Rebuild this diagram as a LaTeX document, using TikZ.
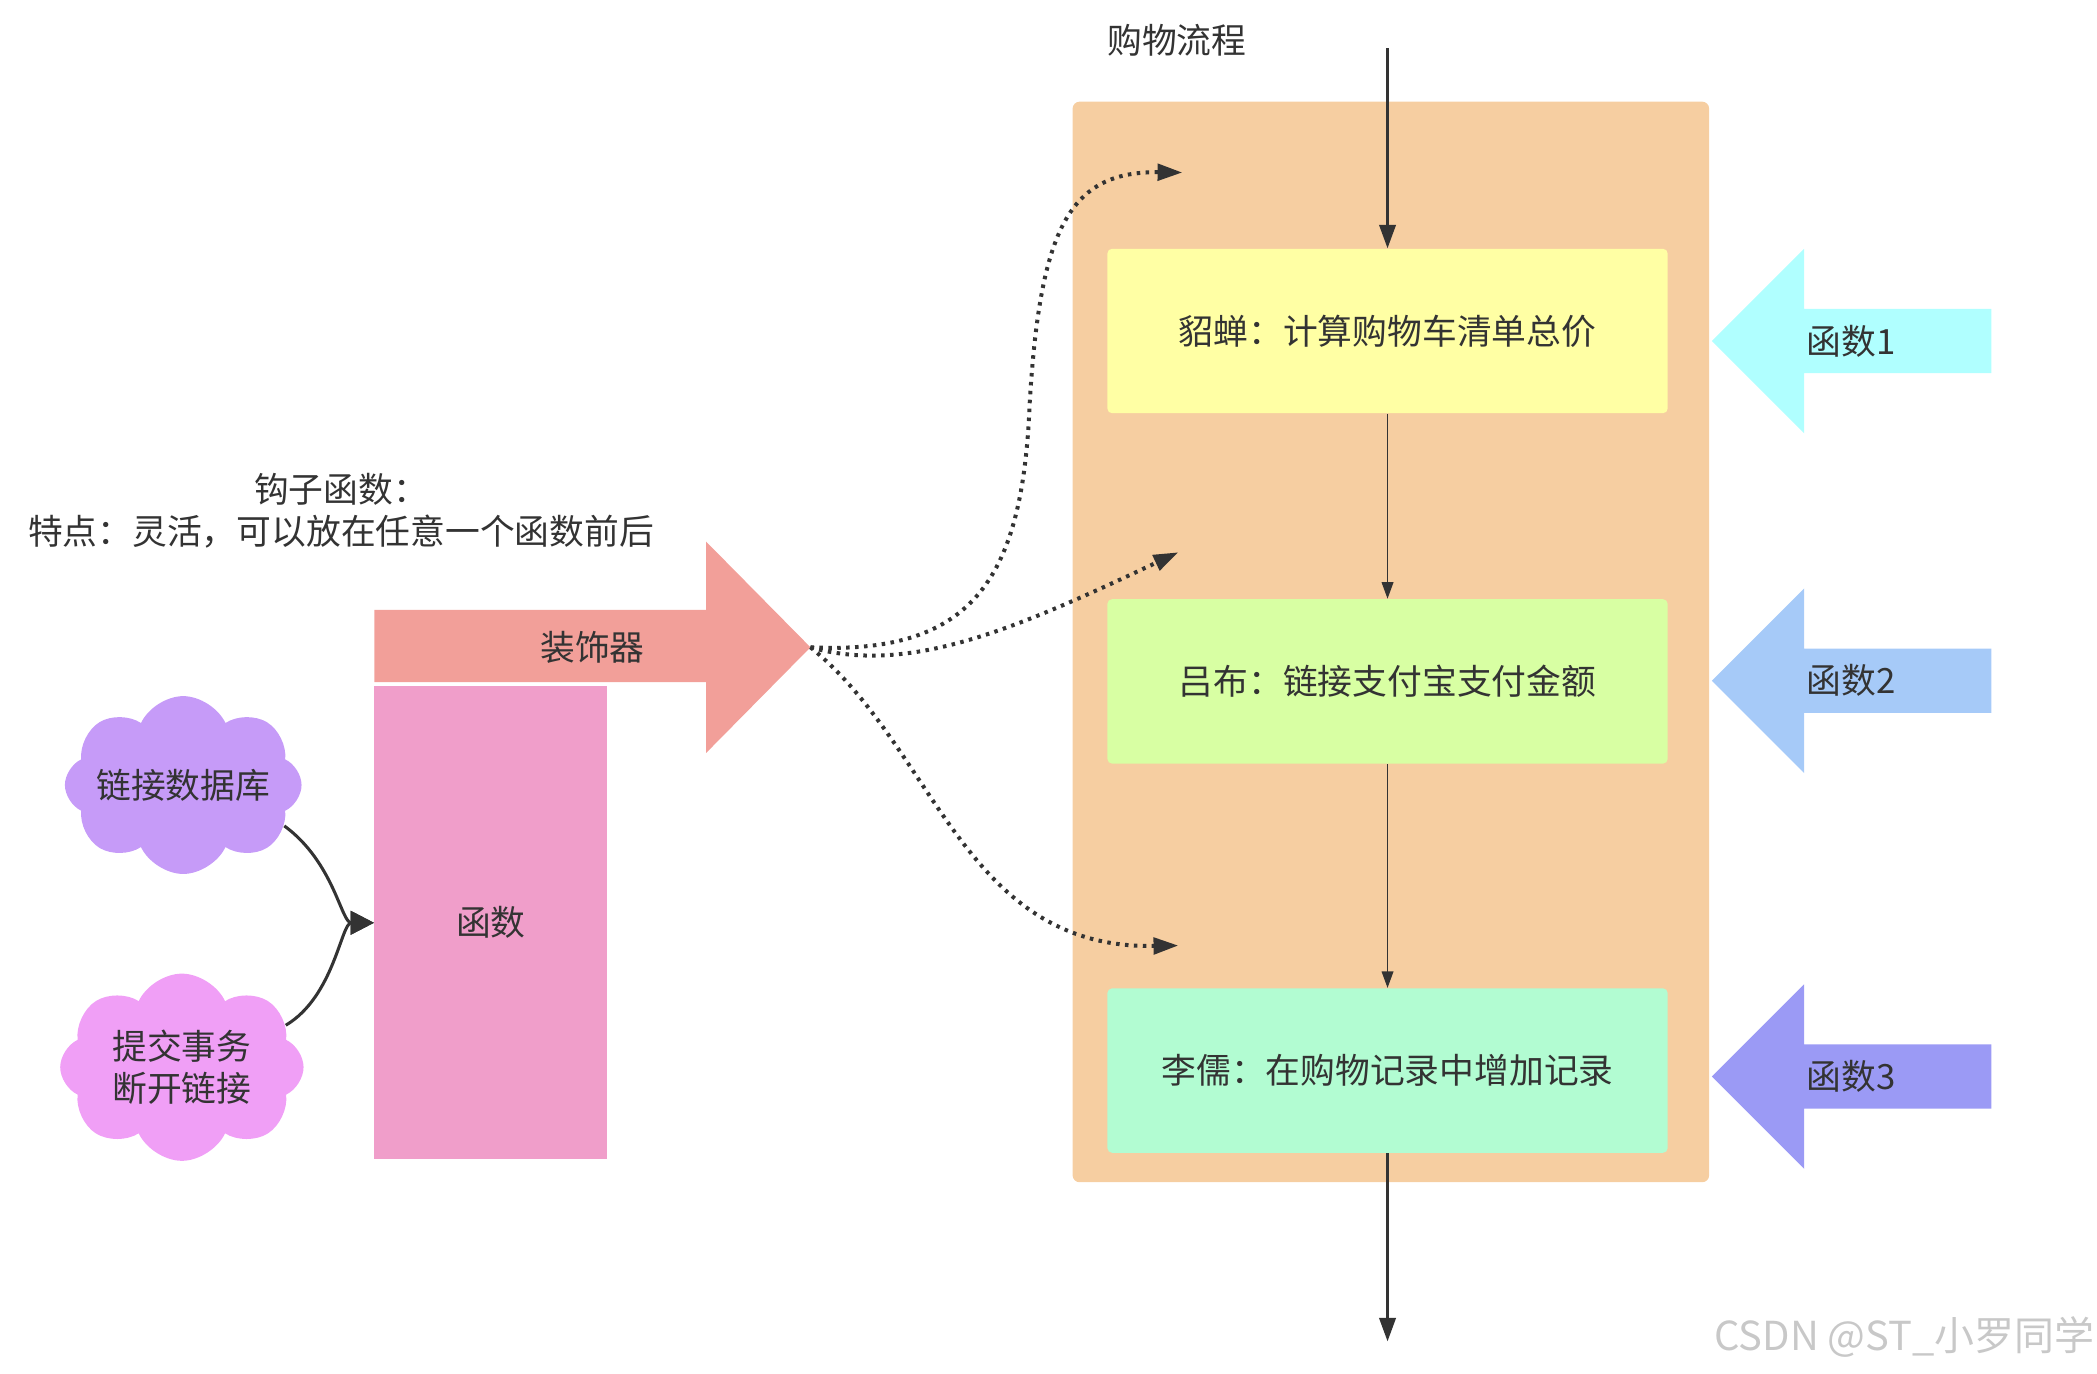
\documentclass[tikz,border=0pt]{standalone}
\usepackage{fontspec}
\setmainfont{Noto Sans CJK SC}
\usetikzlibrary{arrows.meta,shapes.symbols}

\definecolor{txt}{HTML}{333333}
\definecolor{flowbg}{HTML}{F6CEA1}
\definecolor{stepa}{HTML}{FFFFA4}
\definecolor{stepb}{HTML}{D8FFA3}
\definecolor{stepc}{HTML}{B2FCD2}
\definecolor{fnone}{HTML}{B0FFFF}
\definecolor{fntwo}{HTML}{A6CAF8}
\definecolor{fnthree}{HTML}{9B9AF5}
\definecolor{deco}{HTML}{F29F99}
\definecolor{funcbox}{HTML}{F09ECA}
\definecolor{cloudone}{HTML}{C69BF8}
\definecolor{cloudtwo}{HTML}{F09FF6}
\definecolor{wmgray}{HTML}{C8C8C8}

\newcommand\cjkfs{\fontsize{14.8pt}{18.1pt}\selectfont}

\tikzset{
  stepbox/.style={rectangle, rounded corners=2pt, minimum width=8.38cm, minimum height=2.46cm, inner sep=0pt},
  flowarrow/.style={draw=txt, line width=1.1pt, -{Triangle[length=10pt,width=7pt]}},
  thinarrow/.style={draw=txt, line width=0.5pt, -{Triangle[length=7pt,width=5pt]}},
  hookarrow/.style={draw=txt, line width=1.7pt, dash pattern=on 1.5pt off 2.3pt, -{Triangle[length=10.5pt,width=7pt]}},
  linkarrow/.style={draw=txt, line width=1.3pt, -{Triangle[length=10pt,width=10pt]}},
  puff/.style={cloud, cloud puffs=8, cloud puff arc=130, cloud ignores aspect, inner xsep=-22pt, inner ysep=-6pt}
}

\begin{document}
\begin{tikzpicture}[x=0.02cm, y=-0.02cm, every node/.append style={text=txt, font=\cjkfs}]
\useasboundingbox (0,0) rectangle (1568,1027);

% shopping flow
\node (title) at (880,30) {购物流程};
\fill[flowbg, rounded corners=3pt] (802,76) rectangle (1278,884);
\node[stepbox, fill=stepa] (diaochan) at (1037.5,247.5) {貂蝉：计算购物车清单总价};
\node[stepbox, fill=stepb] (lvbu) at (1037.5,509.5) {吕布：链接支付宝支付金额};
\node[stepbox, fill=stepc] (liru) at (1037.5,800.5) {李儒：在购物记录中增加记录};
\coordinate (start) at (1037.5,36);
\coordinate (finish) at (1037.5,1003);
\draw[flowarrow] (start) -- (diaochan);
\draw[thinarrow] (diaochan) -- (lvbu);
\draw[thinarrow] (lvbu) -- (liru);
\draw[flowarrow] (liru) -- (finish);

% functions on the right
\foreach \yy/\col/\num in {255/fnone/1, 509/fntwo/2, 805/fnthree/3}{
  \fill[\col] (1280,\yy) -- (1349,\yy-69) -- (1349,\yy-24) -- (1489,\yy-24)
    -- (1489,\yy+24) -- (1349,\yy+24) -- (1349,\yy+69) -- cycle;
  \node (fn\num) at (1384,\yy) {函数\num};
}

% decorator
\fill[deco] (280,456) -- (528,456) -- (528,405) -- (606,484) -- (528,563) -- (528,510) -- (280,510) -- cycle;
\node (deco) at (443,484) {装饰器};
\coordinate (decotip) at (606,484);
\node[fill=funcbox, minimum width=3.48cm, minimum height=7.08cm, inner sep=0pt] (func) at (367,690) {函数};

% hook note
\node[align=center] (hook) at (255,382) {钩子函数：\\特点：灵活，可以放在任意一个函数前后};

% clouds
\node[puff, fill=cloudone, minimum width=3.54cm, minimum height=2.66cm] (dbcloud) at (137,587) {链接数据库};
\node[puff, fill=cloudtwo, minimum width=3.64cm, minimum height=2.8cm, align=center] (commit) at (136,798) {提交事务\\断开链接};
\draw[linkarrow] (dbcloud.-22) .. controls (250,645) and (255,690) .. (func.west);
\draw[linkarrow] (commit.22) .. controls (250,745) and (255,690) .. (func.west);

% hooks into the flow
\coordinate (hookone) at (884,129);
\coordinate (hooktwo) at (881,413);
\coordinate (hookthree) at (881,707);
\draw[hookarrow] (decotip) .. controls (730,490) and (765,430) .. (770,300)
  .. controls (778,170) and (800,128) .. (hookone);
\draw[hookarrow] (decotip) .. controls (680,505) and (760,470) .. (hooktwo);
\draw[hookarrow] (decotip) .. controls (700,560) and (720,710) .. (hookthree);

\node[text=wmgray, font=\fontsize{17pt}{20pt}\selectfont] (mark) at (1424,1000) {CSDN @ST\_小罗同学};
\end{tikzpicture}
\end{document}
